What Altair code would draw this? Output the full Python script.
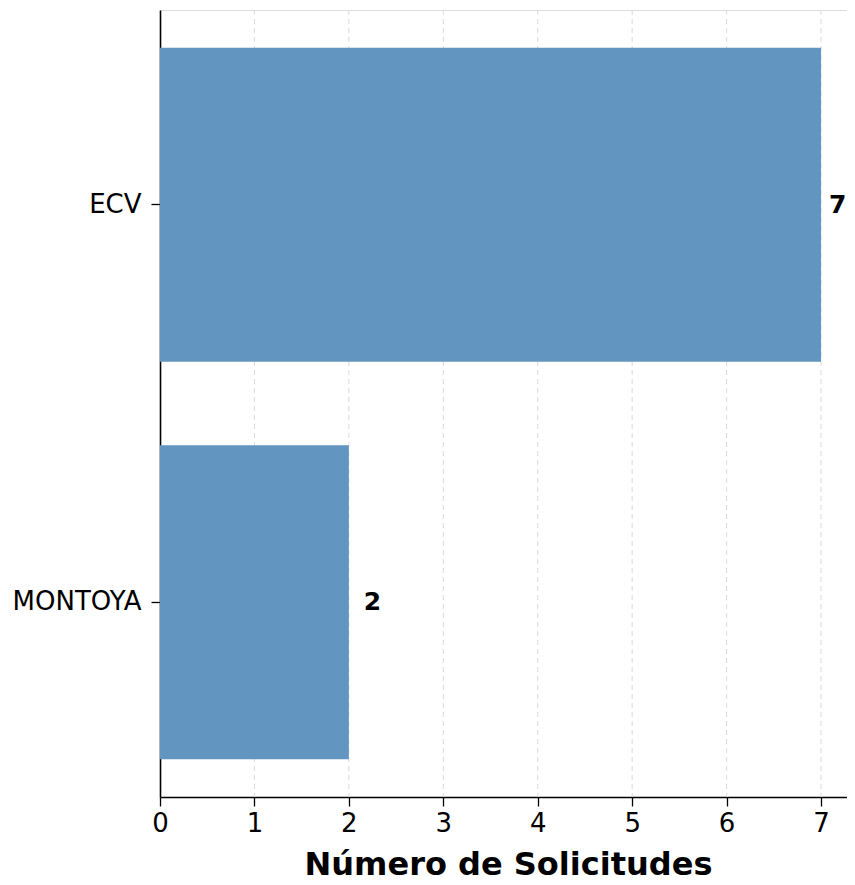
import altair as alt
import pandas as pd

categories = ["ECV", "MONTOYA"]
values = [7, 2]
x_ticks = [0, 1, 2, 3, 4, 5, 6, 7]

df = pd.DataFrame({"cat": categories, "val": values})
grid_df = pd.DataFrame({"t": x_ticks[1:]})

FONT = "DejaVu Sans"
BAR = "#6295bf"
XMAX = 7.275
XSCALE = alt.Scale(domain=[0, XMAX], nice=False, zero=True)

y_enc = alt.Y(
    "cat:N",
    sort=None,
    scale=alt.Scale(paddingInner=0.21, paddingOuter=0.095),
    axis=alt.Axis(
        title=None,
        labelFont=FONT,
        labelFontSize=26,
        labelColor="black",
        labelPadding=10,
        tickSize=9,
        tickWidth=1.3,
        tickColor="black",
        domainColor="black",
        domainWidth=1.6,
        grid=False,
    ),
)

x_enc = alt.X(
    "val:Q",
    scale=XSCALE,
    axis=alt.Axis(
        title="Número de Solicitudes",
        values=x_ticks,
        format="d",
        labelFont=FONT,
        labelFontSize=26,
        labelColor="black",
        labelPadding=4,
        labelFlush=False,
        tickSize=9,
        tickWidth=1.3,
        tickColor="black",
        domainColor="black",
        domainWidth=1.6,
        grid=False,
        titleFont=FONT,
        titleFontSize=32,
        titleFontWeight="bold",
        titleColor="black",
        titlePadding=13,
        titleX=348,
    ),
)

grid = alt.Chart(grid_df).mark_rule(
    color="#dadada", strokeWidth=1, strokeDash=[5, 4]
).encode(x=alt.X("t:Q", scale=XSCALE))

bars = alt.Chart(df).mark_bar(color=BAR).encode(x=x_enc, y=y_enc)


def value_labels(dx, cond):
    return (
        alt.Chart(df)
        .transform_filter(cond)
        .mark_text(
            align="left",
            baseline="middle",
            dx=dx,
            font=FONT,
            fontSize=25,
            fontWeight="bold",
            color="black",
        )
        .encode(x=alt.X("val:Q"), y=alt.Y("cat:N", sort=None), text=alt.Text("val:Q"))
    )


labels_far = value_labels(15, f"datum.val < {XMAX - 0.3}")
labels_edge = value_labels(8, f"datum.val >= {XMAX - 0.3}")

chart = (
    alt.layer(grid, bars, labels_far, labels_edge)
    .properties(
        width=687,
        height=787,
        autosize=alt.AutoSizeParams(type="none"),
        padding={"left": 152, "top": 2, "right": 0, "bottom": 87},
    )
    .configure_view(stroke=None, strokeOpacity=0, strokeWidth=0)
    .configure(background="white")
)

chart.save("out.html", embed_options={"renderer": "svg", "actions": False})
